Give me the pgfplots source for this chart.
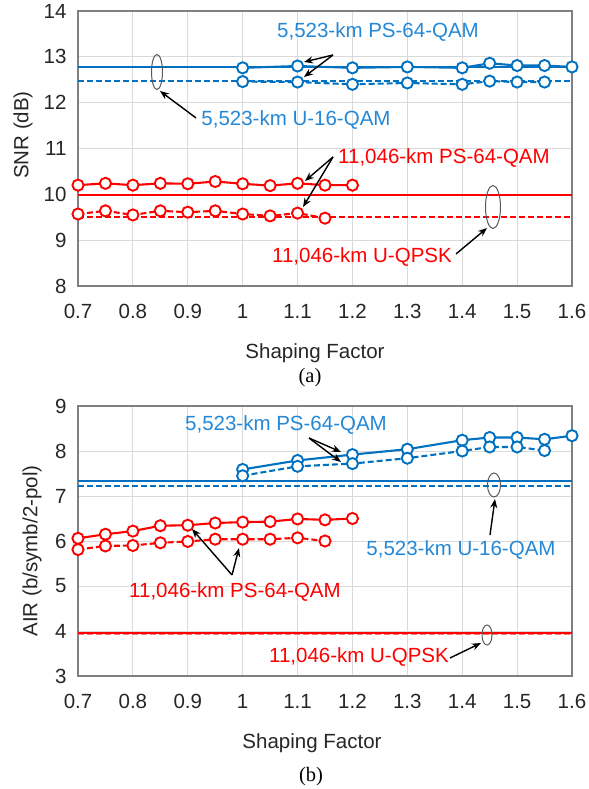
\documentclass[border=0pt]{standalone}
\usepackage{pgfplots}
\pgfplotsset{compat=1.18}
\usepackage{fontspec}
\setmainfont{Liberation Sans}
\newfontfamily\timesfont{Liberation Serif}
\usetikzlibrary{arrows.meta}
\definecolor{cblue}{RGB}{0,112,192}
\definecolor{tblue}{RGB}{36,136,214}
\definecolor{cred}{RGB}{255,0,0}
\definecolor{gridc}{RGB}{217,217,217}
\definecolor{framec}{RGB}{128,128,128}
\newcommand\fs{\fontsize{20.5bp}{24bp}\selectfont}

\pgfplotsset{
  sf/.style={
    scale only axis, width=494bp,
    xmin=0.7, xmax=1.6,
    xtick={0.7,0.8,0.9,1,1.1,1.2,1.3,1.4,1.5,1.6},
    grid=major, major grid style={gridc, line width=1bp},
    axis line style={framec, line width=1.3bp},
    tick style={draw=none},
    ticklabel style={font=\fs, text=black!85},
    /pgf/number format/assume math mode=true,
    xticklabel style={yshift=-15bp},
    yticklabel style={xshift=-8bp},
    clip=false,
  },
}
\tikzset{
  mk/.style={mark=*, mark size=5.6bp, mark options={solid, fill=white, line width=1.9bp}, line width=2.1bp},
  hl/.style={line width=1.8bp},
  dsh/.style={dash pattern=on 6bp off 3bp},
  arr/.style={-{Stealth[length=9bp,width=7bp]}, line width=1.4bp, black},
  ell/.style={draw=black!65, line width=1bp},
}

\begin{document}
\begin{tikzpicture}
\useasboundingbox (0,0) rectangle (589bp,-789bp);

% (a) SNR
\begin{axis}[sf, at={(78bp,-11bp)}, anchor=north west, height=275bp,
  ymin=8, ymax=14, ytick={8,9,10,11,12,13,14}]
\addplot[cblue, hl, no marks] coordinates {(0.7,12.78) (1.6,12.78)};
\addplot[cblue, hl, dsh, no marks] coordinates {(0.7,12.47) (1.6,12.47)};
\addplot[cred, hl, no marks] coordinates {(0.7,9.98) (1.6,9.98)};
\addplot[cred, hl, dsh, no marks] coordinates {(0.7,9.50) (1.6,9.50)};
\addplot[cblue, mk] coordinates {
  (1.0,12.76) (1.1,12.80) (1.2,12.76) (1.3,12.78) (1.4,12.76)
  (1.45,12.86) (1.5,12.81) (1.55,12.81) (1.6,12.78)};
\addplot[cblue, mk, dsh] coordinates {
  (1.0,12.46) (1.1,12.45) (1.2,12.40) (1.3,12.43) (1.4,12.40)
  (1.45,12.47) (1.5,12.45) (1.55,12.45)};
\addplot[cred, mk] coordinates {
  (0.7,10.20) (0.75,10.24) (0.8,10.20) (0.85,10.24) (0.9,10.23) (0.95,10.28)
  (1.0,10.23) (1.05,10.19) (1.1,10.24) (1.15,10.20) (1.2,10.20)};
\addplot[cred, mk, dsh] coordinates {
  (0.7,9.57) (0.75,9.64) (0.8,9.55) (0.85,9.64) (0.9,9.61) (0.95,9.64)
  (1.0,9.57) (1.05,9.53) (1.1,9.59) (1.15,9.48)};
\end{axis}

% (b) AIR
\begin{axis}[sf, at={(78bp,-406bp)}, anchor=north west, height=270bp,
  ymin=3, ymax=9, ytick={3,4,5,6,7,8,9}]
\addplot[cblue, hl, no marks] coordinates {(0.7,7.34) (1.6,7.34)};
\addplot[cblue, hl, dsh, no marks] coordinates {(0.7,7.22) (1.6,7.22)};
\addplot[cred, line width=2.6bp, no marks] coordinates {(0.7,3.96) (1.6,3.96)};
\addplot[cred!55, line width=1bp, dsh, no marks] coordinates {(0.7,3.93) (1.6,3.93)};
\addplot[cblue, mk] coordinates {
  (1.0,7.59) (1.1,7.79) (1.2,7.92) (1.3,8.04) (1.4,8.24)
  (1.45,8.30) (1.5,8.30) (1.55,8.26) (1.6,8.34)};
\addplot[cblue, mk, dsh] coordinates {
  (1.0,7.45) (1.1,7.66) (1.2,7.72) (1.3,7.84) (1.4,8.00)
  (1.45,8.09) (1.5,8.09) (1.55,8.01)};
\addplot[cred, mk] coordinates {
  (0.7,6.06) (0.75,6.15) (0.8,6.22) (0.85,6.34) (0.9,6.35) (0.95,6.40)
  (1.0,6.42) (1.05,6.43) (1.1,6.49) (1.15,6.47) (1.2,6.50)};
\addplot[cred, mk, dsh] coordinates {
  (0.7,5.81) (0.75,5.89) (0.8,5.90) (0.85,5.96) (0.9,5.99) (0.95,6.04)
  (1.0,6.04) (1.05,6.04) (1.1,6.07) (1.15,6.00)};
\end{axis}

\begin{scope}[x=1bp, y=-1bp, every node/.style={font=\fs, inner sep=0pt}]
% labels
\node[text=black!85] at (315,353) {Shaping Factor};
\node[font=\fs\timesfont] at (310,378) {(a)};
\node[text=black!85, rotate=90] at (23,135) {SNR (dB)};
\node[text=black!85] at (312,743) {Shaping Factor};
\node[font=\fs\timesfont] at (311,777) {(b)};
\node[text=black!85, rotate=90] at (32,551) {AIR (b/symb/2-pol)};

% annotations (a)
\node[text=tblue] at (378,32) {5,523-km PS-64-QAM};
\draw[arr] (333,55) -- (304,62);
\draw[arr] (333,55) -- (304,77);
\draw[ell] (157,72) ellipse (5.5 and 17.5);
\draw[arr] (196,118) -- (160,91);
\node[text=tblue] at (296,120) {5,523-km U-16-QAM};
\node[text=cred] at (444,158) {11,046-km PS-64-QAM};
\draw[arr] (333,157) -- (305,181);
\draw[arr] (333,157) -- (303,207);
\draw[ell] (493,207) ellipse (7.5 and 21.5);
\draw[arr] (456,254) -- (487,228);
\node[text=cred] at (362,257) {11,046-km U-QPSK};

% annotations (b)
\node[text=tblue] at (286,425) {5,523-km PS-64-QAM};
\draw[arr] (309,438) -- (341,452);
\draw[arr] (309,438) -- (341,462);
\draw[ell] (494,485) ellipse (6.5 and 12);
\draw[arr] (490,535) -- (495,499);
\node[text=tblue] at (461,550) {5,523-km U-16-QAM};
\node[text=cred] at (235,592) {11,046-km PS-64-QAM};
\draw[arr] (232,575) -- (192,529);
\draw[arr] (232,575) -- (239,548);
\draw[ell] (487,635) ellipse (5 and 10);
\draw[arr] (450,658) -- (481,643);
\node[text=cred] at (359,657) {11,046-km U-QPSK};
\end{scope}
\end{tikzpicture}
\end{document}
